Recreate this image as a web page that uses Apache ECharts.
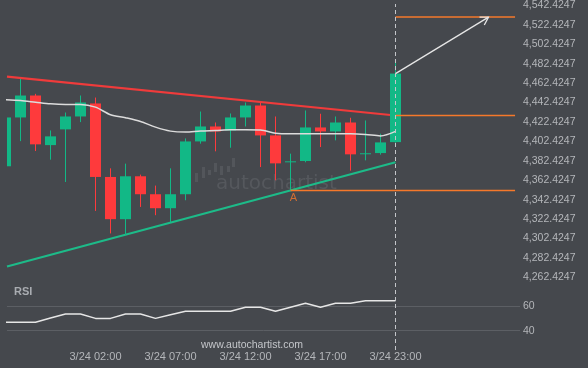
<!DOCTYPE html>
<html>
<head>
<meta charset="utf-8">
<script src="https://cdn.jsdelivr.net/npm/echarts@6/dist/echarts.min.js"></script>
<style>
html,body{margin:0;padding:0;background:#45484d;}
#c{width:588px;height:368px;}
</style>
</head>
<body>
<div id="c"></div>
<script>
// ---- data ----
const times = ['3/23 20:00','3/23 21:00','3/23 22:00','3/23 23:00','3/24 00:00','3/24 01:00','3/24 02:00','3/24 03:00','3/24 04:00','3/24 05:00','3/24 06:00','3/24 07:00','3/24 08:00','3/24 09:00','3/24 10:00','3/24 11:00','3/24 12:00','3/24 13:00','3/24 14:00','3/24 15:00','3/24 16:00','3/24 17:00','3/24 19:00','3/24 20:00','3/24 21:00','3/24 22:00','3/24 23:00'];
const opens  = [4376.8,4427.1,4449.7,4398.6,4414.8,4428.1,4441.5,4365.8,4322.3,4366.5,4348.0,4333.6,4348.0,4402.4,4417.8,4413.7,4427.1,4439.4,4408.6,4381.0,4382.2,4416.8,4412.7,4421.9,4389.4,4390.4,4401.7];
const closes = [4427.1,4449.7,4399.4,4407.6,4428.1,4442.5,4365.8,4322.3,4366.5,4348.0,4333.6,4348.0,4402.4,4417.8,4412.7,4427.1,4439.4,4408.6,4379.8,4381.9,4416.8,4412.7,4421.9,4389.1,4390.2,4401.4,4472.3];
const lows   = [4372.0,4402.7,4392.5,4383.6,4360.6,4422.3,4330.8,4307.6,4306.2,4334.9,4326.4,4319.2,4341.8,4400.1,4392.2,4395.9,4417.8,4376.0,4362.4,4351.8,4380.9,4396.6,4403.5,4372.3,4382.9,4388.8,4401.0];
const highs  = [4431.0,4466.8,4451.4,4413.7,4432.2,4449.7,4447.6,4374.7,4379.5,4368.2,4356.9,4374.7,4405.5,4433.2,4421.9,4431.2,4442.5,4442.5,4428.1,4389.8,4434.3,4430.9,4428.1,4426.8,4424.0,4410.3,4485.7];
const maValues = [4445.3,4444.5,4442.8,4441.1,4440.4,4440.4,4437.7,4429.9,4426.8,4423.0,4417.1,4413.0,4412.0,4413.2,4413.7,4414.4,4414.4,4414.2,4410.9,4410.3,4410.3,4410.3,4410.3,4410.3,4409.6,4408.1,4412.7];
const rsiValues = [47,47,47,50.4,53.7,53.7,50.1,50.1,53.7,53.7,50.1,53,55.9,55.9,55.9,55.9,59.2,59.2,55.9,59.2,62.5,59.2,62.5,62.5,64.6,64.6,64.6];
const xLabelIdx = [6,11,16,21,26];
const priceTicks = {min:4262.4247, max:4542.4247, step:20};
const rsiTicks = {min:20, max:80, step:20};
// pattern lines in candle index / price
const resistance = [[0.1,4469.2],[26,4429.1]];
const support = [[0.1,4273.5],[26,4380.9]];
const levelTop = [[26,4530.5],[33.97,4530.5]];
const levelMid = [[26,4429.1],[33.97,4429.1]];
const levelLow = [[19,4351.8],[33.97,4351.8]];
const arrow = [[26,4472.3,32.2,4530.5]];
const pointA = [[19,4351.8]];

// ---- build ----
const GREEN='#12b886', RED='#fe3a3c', ORANGE='#f5782b', BG='#45484d';
const candles = times.map((t,i)=>[i,opens[i],closes[i],lows[i],highs[i]]);
const ma = maValues.map((v,i)=>[i,v]);
const rsi = rsiValues.map((v,i)=>[i,v]);
const XMIN=0.1, XMAX=34.3;
function fmtPrice(v){
  const n=Math.round((v-priceTicks.min)/priceTicks.step);
  const val=priceTicks.min+n*priceTicks.step;
  const s=val.toFixed(4).split('.');
  return s[0].replace(/\B(?=(\d{3})+(?!\d))/g, ',')+'.'+s[1];
}
const lbl = {color:'#b4b6ba', fontSize:10.5, fontFamily:'Liberation Sans'};
const chart = echarts.init(document.getElementById('c'));
chart.setOption({
  backgroundColor: BG,
  animation:false,
  grid:[
    {left:7, right:68, top:4.7, height:272.6},
    {left:7, right:68, top:281.9, height:73.2},
    {left:7, right:68, top:4, bottom:18}
  ],
  xAxis:[
    {type:'value', gridIndex:0, min:XMIN, max:XMAX, show:false},
    {type:'value', gridIndex:1, min:XMIN, max:XMAX, show:false},
    {type:'value', gridIndex:2, min:XMIN, max:XMAX,
      axisLine:{show:false}, axisTick:{show:false}, splitLine:{show:false},
      axisLabel:{customValues:xLabelIdx, margin:1, color:'#b4b6ba', fontSize:11, fontFamily:'Liberation Sans',
        formatter:v=>times[Math.round(v)]||''}}
  ],
  yAxis:[
    {type:'value', gridIndex:0, position:'right', min:priceTicks.min, max:priceTicks.max, interval:priceTicks.step,
      axisLine:{show:false}, axisTick:{show:false}, splitLine:{show:false},
      axisLabel:Object.assign({margin:3, showMinLabel:true, showMaxLabel:true, formatter:fmtPrice}, lbl)},
    {type:'value', gridIndex:1, position:'right', min:rsiTicks.min, max:rsiTicks.max, interval:rsiTicks.step,
      axisLine:{show:false}, axisTick:{show:false},
      splitLine:{show:true, showMinLine:false, showMaxLine:false, lineStyle:{color:'#5c5f64', width:1}},
      axisLabel:Object.assign({margin:3, showMinLabel:false, showMaxLabel:false}, lbl)},
    {type:'value', gridIndex:2, min:0, max:1, show:false}
  ],
  graphic:[
    {type:'text', left:14, top:286, style:{text:'RSI', fill:'#a9acb1', font:'bold 11px "Liberation Sans"'}},
    {type:'text', left:201, top:340, style:{text:'www.autochartist.com', fill:'#c4c6ca', font:'10.5px "Liberation Sans"'}},
    {type:'text', left:216, top:174, z:-1, style:{text:'autochartist', fill:'#55585d', font:'20px "DejaVu Sans"'}},
    {type:'group', z:-1, children:[
      {type:'rect', shape:{x:187,y:176,width:3,height:12}, style:{fill:'#53565b'}},
      {type:'rect', shape:{x:195,y:173,width:3,height:9}, style:{fill:'#53565b'}},
      {type:'rect', shape:{x:202,y:167,width:3,height:11}, style:{fill:'#53565b'}},
      {type:'rect', shape:{x:208,y:170,width:3,height:5}, style:{fill:'#53565b'}},
      {type:'rect', shape:{x:214,y:163,width:3,height:9}, style:{fill:'#53565b'}},
      {type:'rect', shape:{x:220,y:166,width:3,height:9}, style:{fill:'#53565b'}},
      {type:'rect', shape:{x:227,y:166,width:3,height:6}, style:{fill:'#53565b'}},
      {type:'rect', shape:{x:232,y:158,width:3,height:9}, style:{fill:'#53565b'}}
    ]}
  ],
  series:[
    {type:'line', xAxisIndex:0, yAxisIndex:0, data:support, symbol:'none', lineStyle:{color:'#1dbb89', width:2.2}, z:3},
    {type:'line', xAxisIndex:0, yAxisIndex:0, data:resistance, symbol:'none', lineStyle:{color:'#f03b3b', width:2.2}, z:3},
    {type:'custom', xAxisIndex:0, yAxisIndex:0, data:candles, encode:{x:0, y:[1,2,3,4]}, z:4,
      renderItem:function(params, api){
        const x=api.value(0), o=api.value(1), c=api.value(2), l=api.value(3), h=api.value(4);
        const pO=api.coord([x,o]), pC=api.coord([x,c]), pL=api.coord([x,l]), pH=api.coord([x,h]);
        const col = c>=o ? GREEN : RED;
        const w=11;
        const cs=params.coordSys;
        const children=[];
        const cx=Math.round(pO[0]-0.5)+0.5;
        if (cx>=cs.x && cx<=cs.x+cs.width){
          children.push({type:'line', shape:{x1:cx,y1:pH[1],x2:cx,y2:pL[1]}, style:{stroke:col, lineWidth:1}});
        }
        const top=Math.min(pO[1],pC[1]);
        const rect=echarts.graphic.clipRectByRect({x:Math.round(pO[0]-w/2), y:top, width:w, height:Math.max(Math.abs(pO[1]-pC[1]),1)},
          {x:cs.x, y:cs.y, width:cs.width, height:cs.height});
        if (rect) children.push({type:'rect', shape:rect, style:{fill:col}});
        return {type:'group', children:children};
      }},
    {type:'line', xAxisIndex:0, yAxisIndex:0, data:ma, symbol:'none', smooth:0.3, lineStyle:{color:'#dcdcdc', width:1.5}, z:5},
    {type:'line', xAxisIndex:0, yAxisIndex:0, data:levelTop, symbol:'none', lineStyle:{color:ORANGE, width:1.5}, z:5},
    {type:'line', xAxisIndex:0, yAxisIndex:0, data:levelMid, symbol:'none', lineStyle:{color:ORANGE, width:1.5}, z:5},
    {type:'line', xAxisIndex:0, yAxisIndex:0, data:levelLow, symbol:'none', lineStyle:{color:ORANGE, width:1.5}, z:5},
    {type:'scatter', xAxisIndex:0, yAxisIndex:0, data:pointA, symbolSize:1, itemStyle:{color:'rgba(0,0,0,0)'},
      label:{show:true, formatter:'A', position:'bottom', distance:1, offset:[3,0], color:ORANGE, fontSize:11, fontFamily:'Liberation Sans'}, z:6},
    {type:'custom', xAxisIndex:0, yAxisIndex:0, data:arrow, encode:{x:[0,2], y:[1,3]}, clip:false, z:6,
      renderItem:function(params, api){
        const p0=api.coord([api.value(0),api.value(1)]);
        const p1=api.coord([api.value(2),api.value(3)]);
        const ang=Math.atan2(p1[1]-p0[1], p1[0]-p0[0]);
        const L=9, a=0.54;
        const h1=[p1[0]-L*Math.cos(ang-a), p1[1]-L*Math.sin(ang-a)];
        const h2=[p1[0]-L*Math.cos(ang+a), p1[1]-L*Math.sin(ang+a)];
        return {type:'group', children:[
          {type:'line', shape:{x1:p0[0],y1:p0[1],x2:p1[0],y2:p1[1]}, style:{stroke:'#e6e6e6', lineWidth:1.3}},
          {type:'polyline', shape:{points:[h1,p1,h2]}, style:{stroke:'#e6e6e6', lineWidth:1.3, fill:null}}
        ]};
      }},
    {type:'line', xAxisIndex:1, yAxisIndex:1, data:rsi, symbol:'none', lineStyle:{color:'#e6e6e6', width:1.5}},
    {type:'line', xAxisIndex:2, yAxisIndex:2, data:[[26,0],[26,1]], symbol:'none', z:7,
      lineStyle:{color:'#c4c6ca', width:1, type:[4,3]}}
  ]
});
</script>
</body>
</html>
